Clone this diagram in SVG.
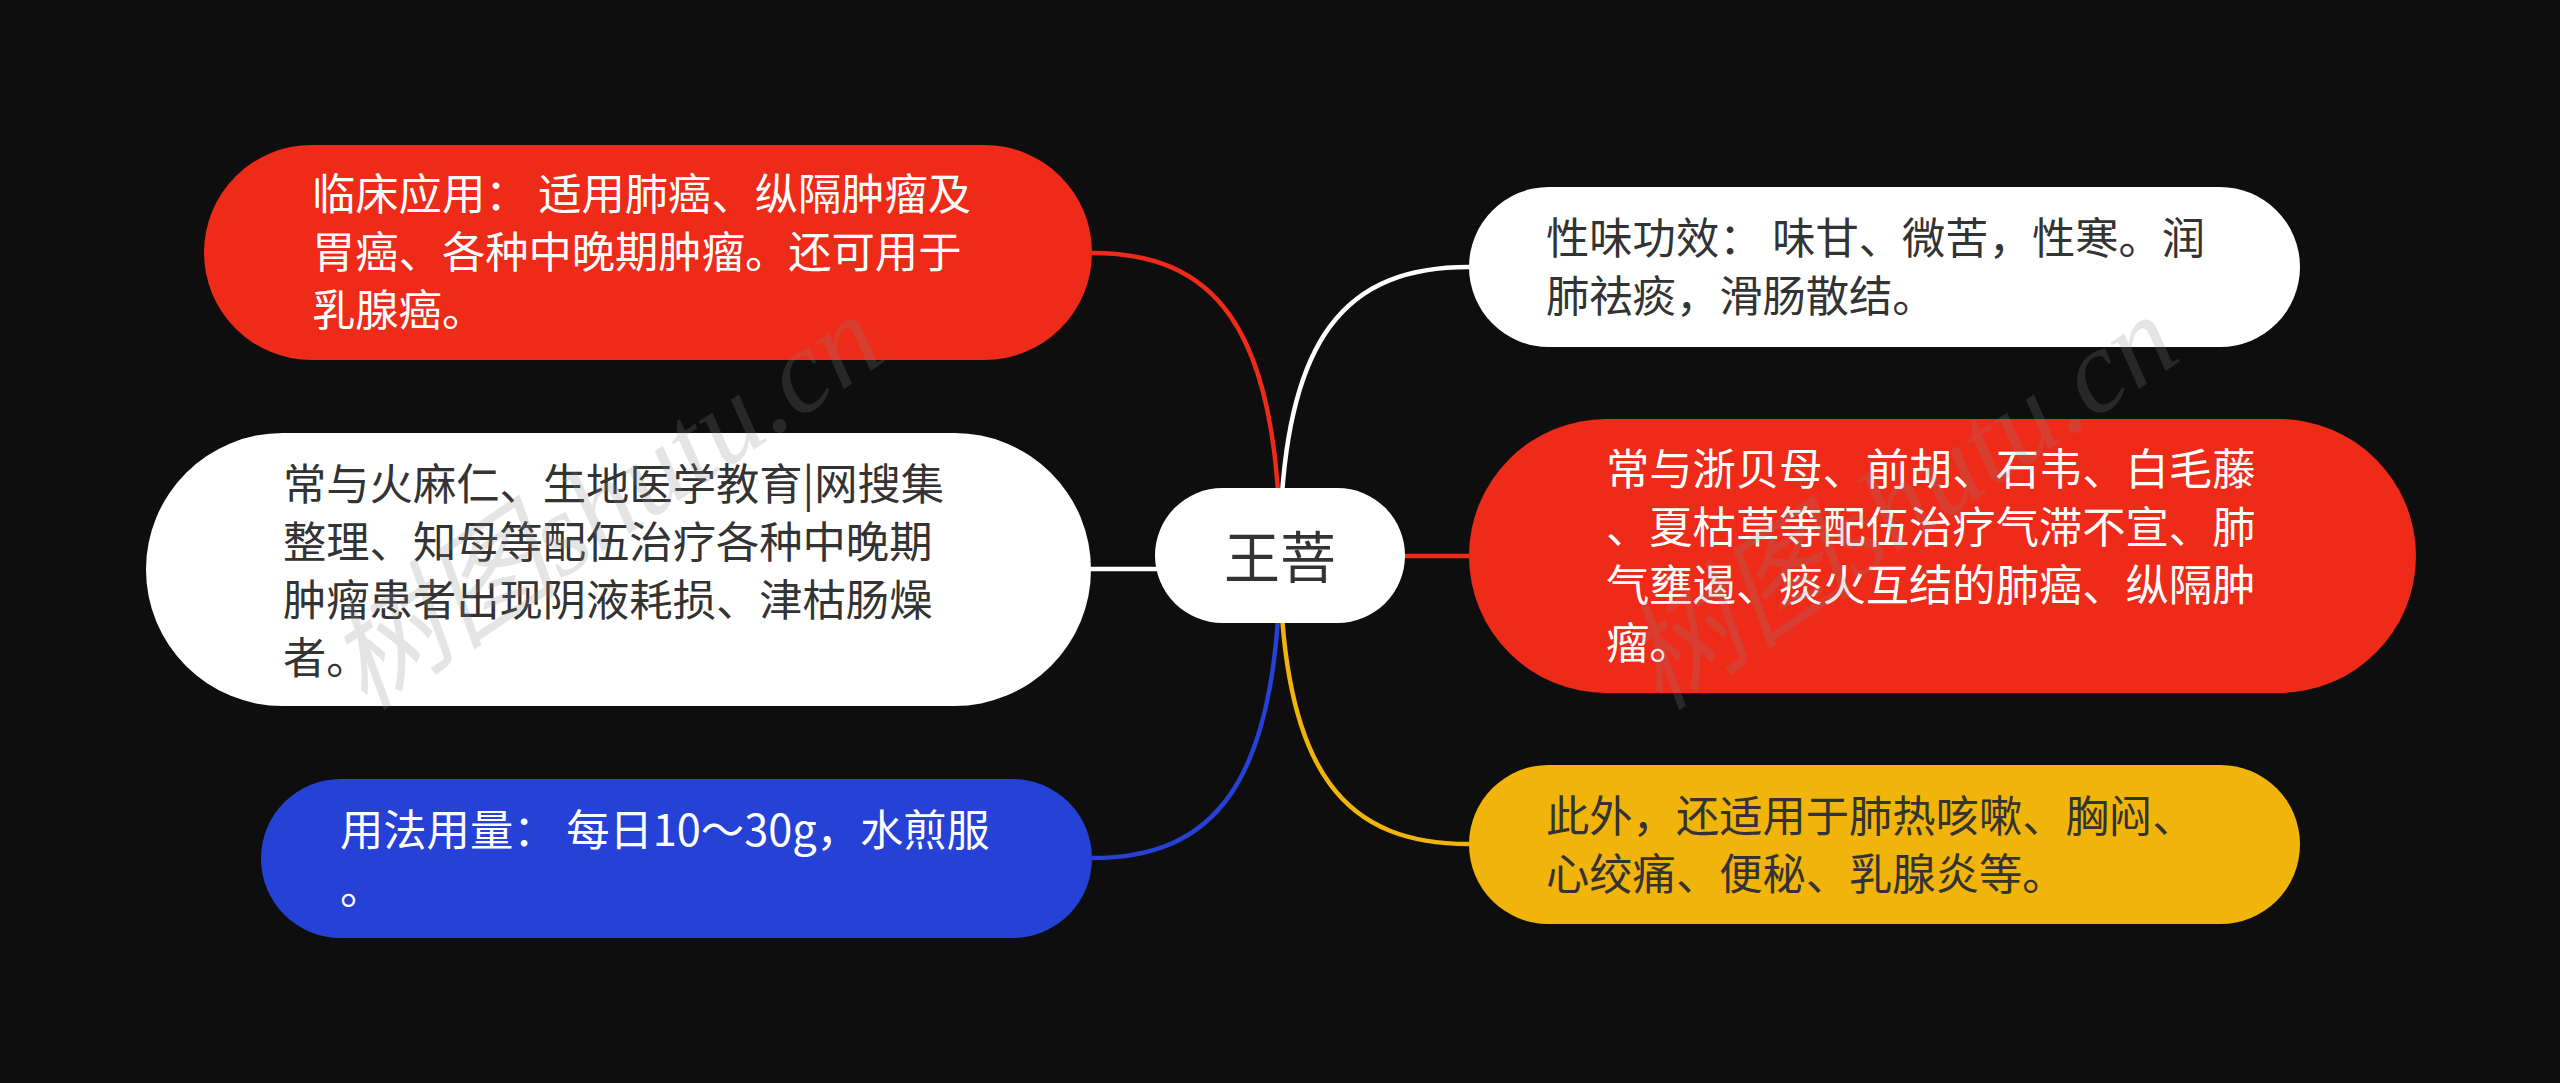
<svg xmlns="http://www.w3.org/2000/svg" width="2560" height="1083" viewBox="0 0 2560 1083">
<style>
.t{font-family:"Noto Sans CJK SC","Liberation Sans",sans-serif;font-size:43.3px}
.w{fill:#ffffff}
.d{fill:#333333}
.c{fill:none;stroke-width:4.5}
.wm{font-family:"Liberation Serif","Noto Sans CJK SC",serif;font-style:italic;font-size:118px;fill:#8a8a8a;fill-opacity:0.22}
</style>
<rect x="0" y="0" width="2560" height="1083" fill="#0e0e0e"/>
<g id="connectors">
<path class="c" stroke="#ee2a18" d="M1280,555 C1280,320 1210,253 1092,253"/>
<path class="c" stroke="#ffffff" d="M1280,569 H1091"/>
<path class="c" stroke="#2541d6" d="M1280,555 C1280,790 1210,858 1092,858"/>
<path class="c" stroke="#ffffff" d="M1280,555 C1280,330 1350,267 1469,267"/>
<path class="c" stroke="#ee2a18" d="M1280,556 H1469"/>
<path class="c" stroke="#f0b40a" d="M1280,555 C1280,780 1350,844 1469,844"/>
</g>
<g id="root">
<rect x="1155" y="488" width="250" height="135" rx="67.5" fill="#ffffff"/>
<text x="1280" y="578" text-anchor="middle" font-family="Noto Sans CJK SC, sans-serif" font-size="56" fill="#333333">王菩</text>
</g>
<g id="node-clinical">
<rect x="204" y="145" width="888" height="215" rx="107.5" fill="#ee2a18"/>
<text class="t w"><tspan x="312" y="210">临床应用： 适用肺癌、纵隔肿瘤及</tspan><tspan x="312" y="268">胃癌、各种中晚期肿瘤。还可用于</tspan><tspan x="312" y="326">乳腺癌。</tspan></text>
</g>
<g id="node-combo-left">
<rect x="146" y="433" width="945" height="273" rx="136.5" fill="#ffffff"/>
<text class="t d"><tspan x="283" y="500">常与火麻仁、生地医学教育|网搜集</tspan><tspan x="283" y="558">整理、知母等配伍治疗各种中晚期</tspan><tspan x="283" y="616">肿瘤患者出现阴液耗损、津枯肠燥</tspan><tspan x="283" y="674">者。</tspan></text>
</g>
<g id="node-dosage">
<rect x="261" y="779" width="831" height="159" rx="79.5" fill="#2541d6"/>
<text class="t w"><tspan x="340" y="846">用法用量： 每日10～30g，水煎服</tspan><tspan x="340" y="904">。</tspan></text>
</g>
<g id="node-taste">
<rect x="1469" y="187" width="831" height="160" rx="80" fill="#ffffff"/>
<text class="t d"><tspan x="1546" y="254">性味功效： 味甘、微苦，性寒。润</tspan><tspan x="1546" y="312">肺祛痰，滑肠散结。</tspan></text>
</g>
<g id="node-combo-right">
<rect x="1469" y="419" width="947" height="274" rx="137" fill="#ee2a18"/>
<text class="t w"><tspan x="1606" y="485">常与浙贝母、前胡、石韦、白毛藤</tspan><tspan x="1606" y="543">、夏枯草等配伍治疗气滞不宣、肺</tspan><tspan x="1606" y="601">气壅遏、痰火互结的肺癌、纵隔肿</tspan><tspan x="1606" y="659">瘤。</tspan></text>
</g>
<g id="node-other">
<rect x="1469" y="765" width="831" height="159" rx="79.5" fill="#f0b40a"/>
<text class="t d"><tspan x="1546" y="832">此外，还适用于肺热咳嗽、胸闷、</tspan><tspan x="1546" y="890">心绞痛、便秘、乳腺炎等。</tspan></text>
</g>
<g id="watermarks">
<text class="wm" transform="translate(365,712) rotate(-34)">树图shutu.cn</text>
<text class="wm" transform="translate(1660,712) rotate(-34)">树图shutu.cn</text>
</g>
</svg>
